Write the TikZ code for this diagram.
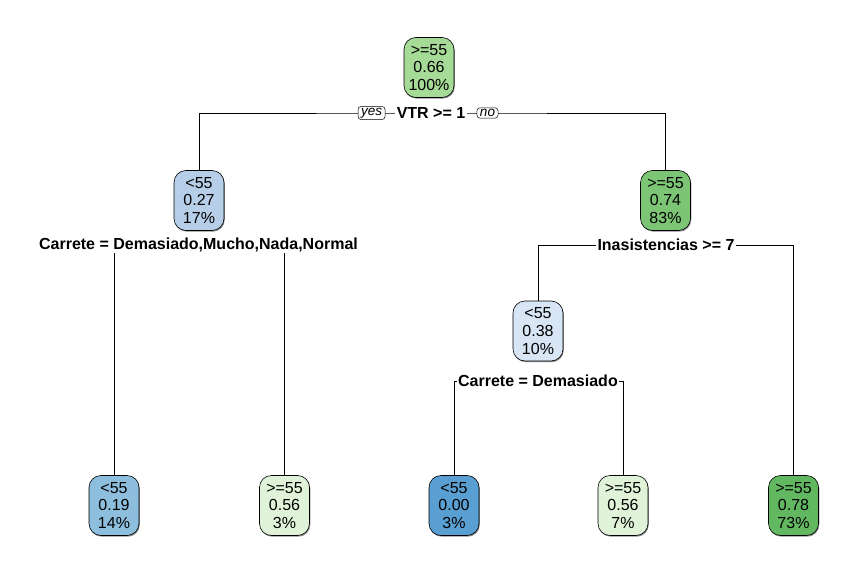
\documentclass[tikz,border=0pt]{standalone}
\usepackage{fontspec}
\setmainfont{Liberation Sans}
\usetikzlibrary{backgrounds,shadows}
\definecolor{gA}{HTML}{A6DA97}
\definecolor{gB}{HTML}{7CC574}
\definecolor{gC}{HTML}{62B860}
\definecolor{gL}{HTML}{E0F3D8}
\definecolor{bA}{HTML}{B6CEE8}
\definecolor{bL}{HTML}{D7E5F4}
\definecolor{bB}{HTML}{8DBEDD}
\definecolor{bC}{HTML}{5A9FD1}
\tikzset{
  treebox/.style={draw=black, line width=0.6pt, rounded corners=12pt, minimum width=50pt,
    minimum height=60pt, inner sep=1pt, align=center,
    font=\fontsize{16}{17.6}\selectfont,
    general shadow={fill=black!45, shadow xshift=0.8pt, shadow yshift=-1.2pt}},
  splitlabel/.style={fill=white, inner xsep=1.5pt, inner ysep=1pt, font=\bfseries\fontsize{16}{18}\selectfont},
  yesno/.style={draw=black, line width=0.5pt, fill=white, rounded corners=3pt, inner xsep=3pt, inner ysep=1.5pt,
    font=\itshape\fontsize{13.5}{15}\selectfont},
  edge/.style={draw=black, line width=0.6pt}
}
\begin{document}
\begin{tikzpicture}[x=1pt,y=-1pt]
\useasboundingbox (0,0) rectangle (867,572);
% nodes
\node[treebox, fill=gA] (n1) at (429,67.5) {>=55\\0.66\\100\%};
\node[treebox, fill=bA] (n2) at (199,200.5) {<55\\0.27\\17\%};
\node[treebox, fill=gB] (n3) at (665.5,200.5) {>=55\\0.74\\83\%};
\node[treebox, fill=bL] (n6) at (538,331) {<55\\0.38\\10\%};
\node[treebox, fill=bB] (n4) at (114,505.5) {<55\\0.19\\14\%};
\node[treebox, fill=gL] (n5) at (284.5,505.5) {>=55\\0.56\\3\%};
\node[treebox, fill=bC] (n12) at (454,505.5) {<55\\0.00\\3\%};
\node[treebox, fill=gL] (n13) at (623,505.5) {>=55\\0.56\\7\%};
\node[treebox, fill=gC] (n7) at (793.5,505.5) {>=55\\0.78\\73\%};
% split labels
\node[splitlabel] (s1) at (431,113) {VTR >= 1};
\node[yesno] (yes) at (371.5,113) {yes};
\node[yesno] (no) at (487.5,113) {no};
\node[splitlabel] (s2) at (198.5,245) {Carrete = Demasiado,Mucho,Nada,Normal};
\node[splitlabel] (s3) at (666,245) {Inasistencias >= 7};
\node[splitlabel] (s6) at (538,381) {Carrete = Demasiado};
% connectors
\begin{pgfonlayer}{background}
\draw[edge] (n2.north) |- (s1.center) -| (n3.north);
\draw[edge] (n4.north) |- (s2.center) -| (n5.north);
\draw[edge] (n6.north) |- (s3.center) -| (n7.north);
\draw[edge] (n12.north) |- (s6.center) -| (n13.north);
\end{pgfonlayer}
\end{tikzpicture}
\end{document}
